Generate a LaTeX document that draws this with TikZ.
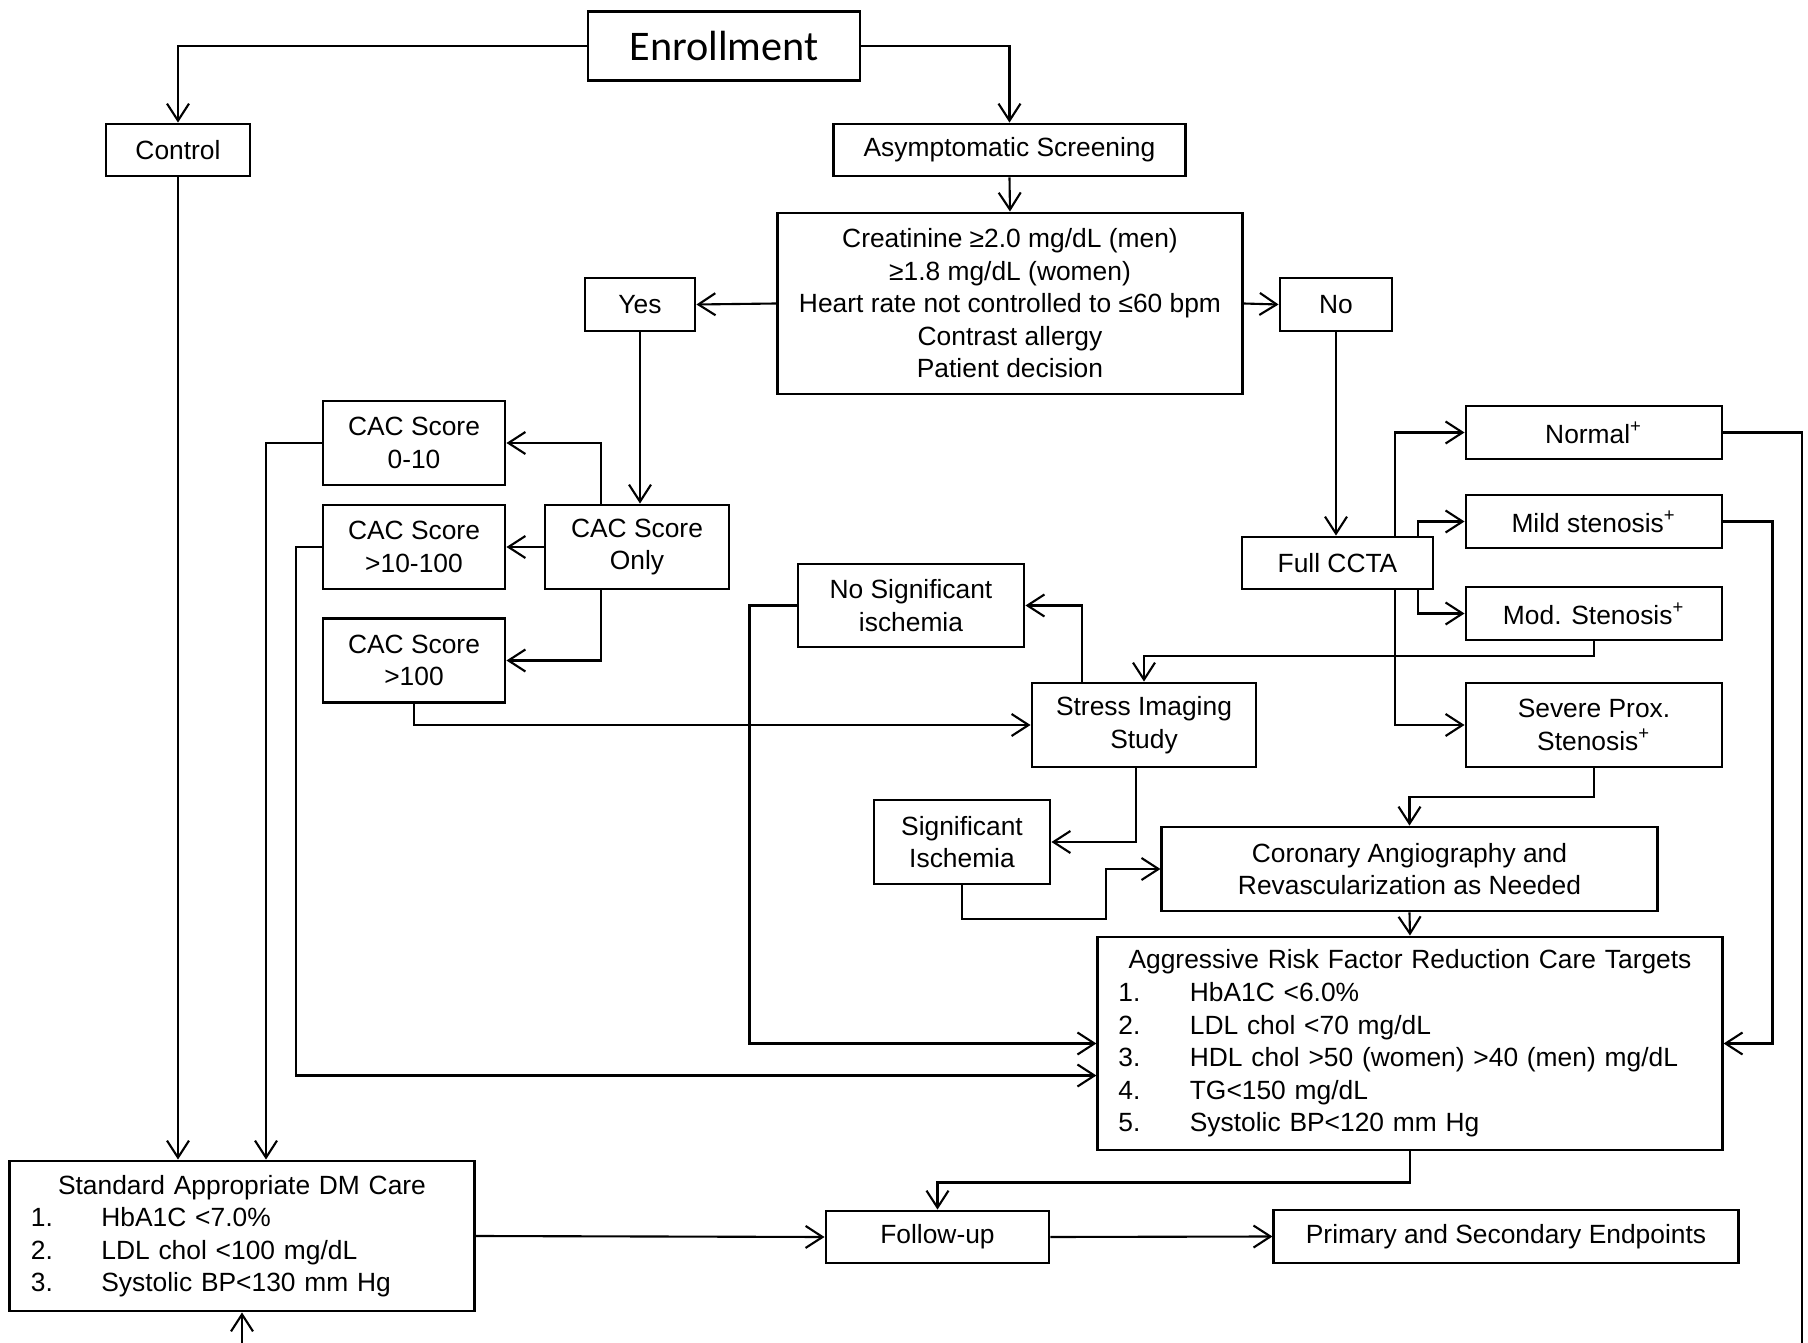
\documentclass[tikz,border=0pt]{standalone}
\usepackage{fontspec}
\setmainfont{Liberation Sans}
\newfontfamily\enrollfont{Carlito}
\usetikzlibrary{arrows.meta}

\begin{document}
\begin{tikzpicture}[x=0.01cm,y=-0.01cm,
  font=\fontsize{7.5}{9.25}\selectfont,
  >={Straight Barb[length=1.7mm,width=2.2mm]},
  box/.style={draw,line width=0.8pt,fill=white,align=center,inner sep=0pt},
  listbox/.style={box,align=left},
  link/.style={->,line width=0.6pt}]
  \useasboundingbox (0,0) rectangle (1808,1343);
  \clip (0,0) rectangle (1808,1343);

  % Enrollment and screening.
  \node[box,minimum width=2.72cm,minimum height=0.69cm,
    font=\enrollfont\fontsize{12}{14}\selectfont] (enroll) at (724,46) {Enrollment};
  \node[box,minimum width=1.44cm,minimum height=0.52cm] (control) at (178,150) {Control};
  \node[box,minimum width=3.51cm,minimum height=0.52cm] (asym) at (1009.5,150) {Asymptomatic Screening};
  \node[box,minimum width=4.64cm,minimum height=1.81cm] (creat) at (1010,303.5)
    {Creatinine ≥2.0 mg/dL (men)\\≥1.8 mg/dL (women)\\Heart rate not controlled to ≤60 bpm\\Contrast allergy\\Patient decision};
  \node[box,minimum width=1.10cm,minimum height=0.53cm] (yes) at (640,304.5) {Yes};
  \node[box,minimum width=1.12cm,minimum height=0.53cm] (no) at (1336,304.5) {No};

  % CAC branch.
  \node[box,minimum width=1.82cm,minimum height=0.84cm] (cacZero) at (414,443) {CAC Score\\0-10};
  \node[box,minimum width=1.82cm,minimum height=0.84cm] (cacMid) at (414,547) {CAC Score\\>10-100};
  \node[box,minimum width=1.84cm,minimum height=0.84cm] (cacOnly) at (637,547) {CAC Score\\Only};
  \node[box,minimum width=1.82cm,minimum height=0.84cm] (cacHigh) at (414,660.5) {CAC Score\\>100};

  % Stress imaging.
  \node[box,minimum width=2.26cm,minimum height=0.83cm] (nosig) at (911,605.5) {No Significant\\ischemia};
  \node[box,minimum width=2.24cm,minimum height=0.84cm] (stress) at (1144,725) {Stress Imaging\\Study};
  \node[box,minimum width=1.76cm,minimum height=0.84cm] (signif) at (962,842) {Significant\\Ischemia};
  \node[box,minimum width=4.95cm,minimum height=0.84cm] (coronary) at (1409.5,869)
    {Coronary Angiography and\\Revascularization as Needed};

  % CCTA branch.
  \node[box,minimum width=1.91cm,minimum height=0.52cm] (ccta) at (1337.5,563) {Full CCTA};
  \node[box,minimum width=2.56cm,minimum height=0.53cm] (normal) at (1594,432.5) {Normal\textsuperscript{+}};
  \node[box,minimum width=2.56cm,minimum height=0.53cm] (mild) at (1594,521.5) {Mild stenosis\textsuperscript{+}};
  \node[box,minimum width=2.56cm,minimum height=0.53cm] (mod) at (1594,613.5) {Mod. Stenosis\textsuperscript{+}};
  \node[box,minimum width=2.56cm,minimum height=0.84cm] (severe) at (1594,725) {Severe Prox.\\Stenosis\textsuperscript{+}};

  % Care targets and outcome.
  \node[listbox,minimum width=6.24cm,minimum height=2.13cm,text width=6.24cm] (aggr) at (1410,1043.5)
    {\makebox[6.24cm]{Aggressive Risk Factor Reduction Care Targets}\\
     \hspace*{0.205cm}\makebox[0.715cm][l]{1.}HbA1C <6.0\%\\
     \hspace*{0.205cm}\makebox[0.715cm][l]{2.}LDL chol <70 mg/dL\\
     \hspace*{0.205cm}\makebox[0.715cm][l]{3.}HDL chol >50 (women) >40 (men) mg/dL\\
     \hspace*{0.205cm}\makebox[0.715cm][l]{4.}TG<150 mg/dL\\
     \hspace*{0.205cm}\makebox[0.715cm][l]{5.}Systolic BP<120 mm Hg};
  \node[listbox,minimum width=4.64cm,minimum height=1.50cm,text width=4.64cm] (dmcare) at (242,1236)
    {\makebox[4.64cm]{Standard Appropriate DM Care}\\
     \hspace*{0.21cm}\makebox[0.705cm][l]{1.}HbA1C <7.0\%\\
     \hspace*{0.21cm}\makebox[0.705cm][l]{2.}LDL chol <100 mg/dL\\
     \hspace*{0.21cm}\makebox[0.705cm][l]{3.}Systolic BP<130 mm Hg};
  \node[box,minimum width=2.23cm,minimum height=0.52cm] (followup) at (937.5,1237) {Follow-up};
  \node[box,minimum width=4.64cm,minimum height=0.53cm] (endpts) at (1506,1236.5) {Primary and Secondary Endpoints};

  \coordinate (sigBend) at (1106,919);
  \coordinate (loopCorner) at (1802,1400);

  % Connectors.
  \draw[link] (enroll.west) -| (control.north);
  \draw[link] (enroll.east) -| (asym.north);
  \draw[link] (asym.south) -- (creat.north);
  \draw[link] (creat.west) -- (yes.east);
  \draw[link] (creat.east) -- (no.west);
  \draw[link] (yes.south) -- (yes.south |- cacOnly.north);
  \draw[link] (no.south) -- (no.south |- ccta.north);
  \draw[link] (control.south) -- (control.south |- dmcare.north);
  \draw[link] ([xshift=-0.36cm]cacOnly.north) |- (cacZero.east);
  \draw[link] (cacOnly.west) -- (cacMid.east);
  \draw[link] ([xshift=-0.36cm]cacOnly.south) |- (cacHigh.east);
  \draw[link] (cacZero.west) -| ([xshift=0.24cm]dmcare.north);
  \draw[link] (cacMid.west) -- ++(-25.5,0) |- ([yshift=-0.32cm]aggr.west);
  \draw[link] (cacHigh.south) |- (stress.west);
  \draw[link] (nosig.west) -- ++(-47,0) |- (aggr.west);
  \draw[link] ([xshift=-0.62cm]stress.north) |- (nosig.east);
  \draw[link] ([xshift=-0.08cm]stress.south) |- (signif.east);
  \draw[link] (signif.south) |- (sigBend) |- (coronary.west);
  \draw[link] (coronary.south) -- (aggr.north);
  \draw[link] ([xshift=0.575cm]ccta.north) |- (normal.west);
  \draw[link] ([xshift=0.805cm]ccta.north) |- (mild.west);
  \draw[link] ([xshift=0.805cm]ccta.south) |- (mod.west);
  \draw[link] ([xshift=0.575cm]ccta.south) |- (severe.west);
  \draw[link] (mod.south) -- ++(0,15) -| (stress.north);
  \draw[link] (severe.south) -- ++(0,29) -| (coronary.north);
  \draw[link] (mild.east) -- ++(49,0) |- (aggr.east);
  \draw[link] (normal.east) -| (loopCorner) -| (dmcare.south);
  \draw[link] (aggr.south) -- ++(0,31) -| (followup.north);
  \draw[link] (dmcare.east) -- (followup.west);
  \draw[link] (followup.east) -- (endpts.west);
\end{tikzpicture}
\end{document}
